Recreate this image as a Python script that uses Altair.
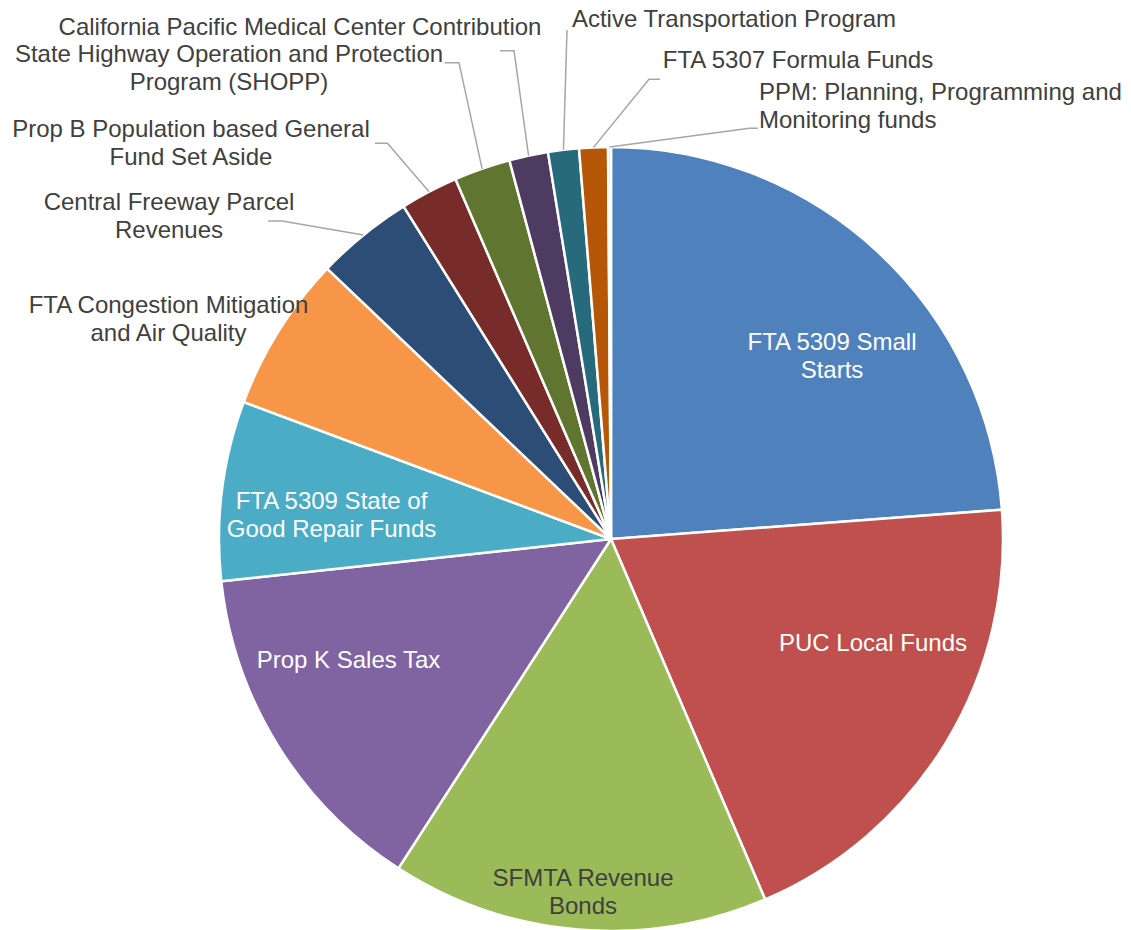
import math
import altair as alt
import pandas as pd

# ---------------- data ----------------
names = [
    "FTA 5309 Small Starts",
    "PUC Local Funds",
    "SFMTA Revenue Bonds",
    "Prop K Sales Tax",
    "FTA 5309 State of Good Repair Funds",
    "FTA Congestion Mitigation and Air Quality",
    "Central Freeway Parcel Revenues",
    "Prop B Population based General Fund Set Aside",
    "State Highway Operation and Protection Program (SHOPP)",
    "California Pacific Medical Center Contribution",
    "Active Transportation Program",
    "FTA 5307 Formula Funds",
    "PPM: Planning, Programming and Monitoring funds",
]
shares = [23.8, 19.75, 15.55, 14.15, 7.4, 6.43, 4.01, 2.38, 2.32, 1.6, 1.27, 1.18, 0.12]

label_lines = [
    ["FTA 5309 Small", "Starts"],
    ["PUC Local Funds"],
    ["SFMTA Revenue", "Bonds"],
    ["Prop K Sales Tax"],
    ["FTA 5309 State of", "Good Repair Funds"],
    ["FTA Congestion Mitigation", "and Air Quality"],
    ["Central Freeway Parcel", "Revenues"],
    ["Prop B Population based General", "Fund Set Aside"],
    ["State Highway Operation and Protection", "Program (SHOPP)"],
    ["California Pacific Medical Center Contribution"],
    ["Active Transportation Program"],
    ["FTA 5307 Formula Funds"],
    ["PPM: Planning, Programming and", "Monitoring funds"],
]

# ---------------- styles / layout ----------------
colors = ["#4F81BD", "#C0504D", "#9BBB59", "#8064A2", "#4BACC6", "#F79646",
          "#2C4D75", "#772C2A", "#5F7530", "#4D3B62", "#276A7C", "#B65708", "#B9CDE5"]
white_label = [True, True, False, True, True, False, False, False, False, False, False, False, False]

MARGIN = 8
CX, CY, R = 611 - MARGIN, 539 - MARGIN, 392
FONT = "Liberation Sans"
FSIZE = 24
LINE_H = 27.5
DARK = "#404040"

# label anchor (page coords): x, y of first line, alignment
label_pos = [
    (832, 343, "center"),
    (873, 644, "center"),
    (583, 879, "center"),
    (348.5, 661, "center"),
    (331.5, 502, "center"),
    (168.5, 306, "center"),
    (169, 203, "center"),
    (191, 130, "center"),
    (229, 55, "center"),
    (300, 28, "center"),
    (734, 20, "center"),
    (798, 61, "center"),
    (759, 93, "left"),
]
# leader lines: slice index -> (elbow, end) in page coords
leaders = {
    6: ((282, 221), (268, 221)),
    7: ((387.5, 143.3), (375, 143.3)),
    8: ((459, 62.7), (444.6, 62.7)),
    9: ((514, 50.7), (500, 50.7)),
    10: ((567, 30), (567, 30)),
    11: ((649, 79.3), (660, 79.3)),
    12: ((749.4, 128.3), (758, 128.3)),
}

# ---------------- tables ----------------
pie_df = pd.DataFrame({"idx": list(range(len(names))), "name": names, "share": shares})

total = sum(shares)
cum = 0.0
mid_angle = []
for s in shares:
    mid_angle.append((cum + s / 2) / total * 2 * math.pi)
    cum += s

lead_rows = []
for i, (elbow, end) in leaders.items():
    a = mid_angle[i]
    px = CX + R * math.sin(a)
    py = CY - R * math.cos(a)
    lead_rows.append(dict(name=names[i], k=0, x=px, y=py))
    lead_rows.append(dict(name=names[i], k=1, x=elbow[0] - MARGIN, y=elbow[1] - MARGIN))
    lead_rows.append(dict(name=names[i], k=2, x=end[0] - MARGIN, y=end[1] - MARGIN))
lead_df = pd.DataFrame(lead_rows)

text_rows = []
for i, lines in enumerate(label_lines):
    x0, y0, al = label_pos[i]
    for j, t in enumerate(lines):
        text_rows.append(dict(text=t, x=x0 - MARGIN, y=y0 - MARGIN + j * LINE_H,
                              color="white" if white_label[i] else DARK, align=al))
text_df = pd.DataFrame(text_rows)

# ---------------- chart ----------------
pie = alt.Chart(pie_df).mark_arc(radius=R, stroke="white", strokeWidth=2.5).encode(
    theta=alt.Theta("share:Q", stack=True),
    color=alt.Color("name:N", scale=alt.Scale(domain=names, range=colors), legend=None),
    order=alt.Order("idx:Q", sort="ascending"),
    x=alt.value(CX),
    y=alt.value(CY),
)

lead = alt.Chart(lead_df).mark_line(color="#A6A6A6", strokeWidth=1.5).encode(
    x=alt.X("x:Q", scale=None),
    y=alt.Y("y:Q", scale=None),
    detail="name:N",
    order="k:Q",
)

def text_layer(al):
    return alt.Chart(text_df[text_df["align"] == al]).mark_text(
        font=FONT, fontSize=FSIZE, baseline="middle", align=al
    ).encode(
        x=alt.X("x:Q", scale=None),
        y=alt.Y("y:Q", scale=None),
        text="text:N",
        color=alt.Color("color:N", scale=None),
    )

chart = alt.layer(pie, lead, text_layer("center"), text_layer("left")).properties(
    width=1115, height=922, autosize=alt.AutoSizeParams(type="none"), padding=0,
    background="white",
).configure_view(stroke=None)

chart.save("out.html", embed_options={"renderer": "svg", "actions": False})
